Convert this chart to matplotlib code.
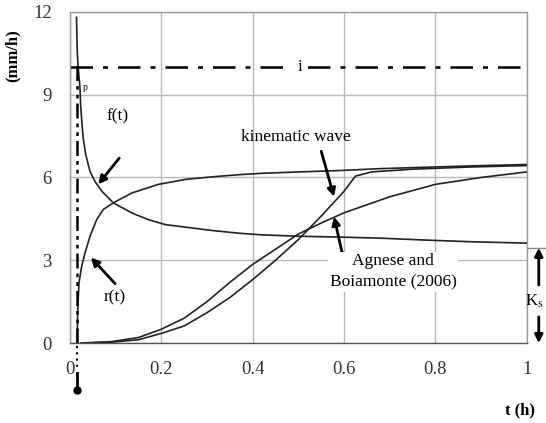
import matplotlib
matplotlib.use("Agg")
import matplotlib.pyplot as plt

# ---- data ----
i_rate = 10.0
t_p = 0.0155
Ks = 3.45

t_f = [0.0145, 0.016, 0.018, 0.022, 0.0235, 0.026, 0.029, 0.0345, 0.044, 0.055, 0.07, 0.095,
       0.136, 0.172, 0.209, 0.253, 0.31, 0.37, 0.42, 0.5, 0.59, 0.68, 0.78, 0.88, 1.0]
f_vals = [11.8, 10.6, 10.0, 9.27, 8.65, 8.04, 7.45, 6.84, 6.22, 5.85, 5.5, 5.08,
          4.71, 4.47, 4.29, 4.2, 4.08, 3.98, 3.92, 3.87, 3.84, 3.8, 3.73, 3.67, 3.62]

t_r = [0.0155, 0.017, 0.0185, 0.0198, 0.0257, 0.033, 0.044, 0.0586, 0.073, 0.095, 0.136, 0.194,
       0.253, 0.31, 0.37, 0.42, 0.5, 0.59, 0.68, 0.78, 0.88, 1.0]
r_vals = [0.0, 1.0, 1.7, 2.17, 2.77, 3.26, 3.87, 4.47, 4.84, 5.08, 5.44, 5.75,
          5.93, 6.02, 6.1, 6.15, 6.2, 6.25, 6.32, 6.37, 6.42, 6.47]

t_kw = [0.025, 0.09, 0.15, 0.2, 0.25, 0.3, 0.35, 0.4, 0.45, 0.5, 0.55, 0.6, 0.625, 0.66, 0.75, 0.88, 1.0]
kw_vals = [0.0, 0.03, 0.12, 0.35, 0.62, 1.1, 1.65, 2.3, 3.0, 3.75, 4.6, 5.5, 6.05, 6.2, 6.3, 6.38, 6.43]

t_ab = [0.025, 0.09, 0.15, 0.2, 0.25, 0.3, 0.35, 0.4, 0.45, 0.5, 0.55, 0.6, 0.7, 0.8, 0.9, 1.0]
ab_vals = [0.0, 0.05, 0.2, 0.5, 0.9, 1.5, 2.2, 2.85, 3.4, 3.95, 4.35, 4.72, 5.3, 5.75, 6.0, 6.2]

x_ticks = [0, 0.2, 0.4, 0.6, 0.8, 1.0]
x_labels = ["0", "0.2", "0.4", "0.6", "0.8", "1"]
y_ticks = [0, 3, 6, 9, 12]

plt.rcParams['font.family'] = ['Liberation Serif', 'DejaVu Serif']
plt.rcParams['mathtext.fontset'] = 'stix'

fig = plt.figure(figsize=(5.46, 4.23), dpi=100)
ax = fig.add_axes([0.128, 0.189, 0.837, 0.783])
ax.set_xlim(0, 1)
ax.set_ylim(0, 12)
ax.set_xticks(x_ticks)
ax.set_xticklabels(x_labels)
ax.set_yticks(y_ticks)
ax.tick_params(length=0, labelsize=13.5, colors='#333333', pad=13)
ax.grid(True, color='#b8b8b8', lw=1.0)
ax.set_axisbelow(True)
for s in ax.spines.values():
    s.set_color('#9a9a9a')
    s.set_linewidth(1.0)
ax.spines['bottom'].set_color('#555555')

lc = '#222222'
ax.plot(t_f, f_vals, color=lc, lw=1.2)
ax.plot(t_r, r_vals, color=lc, lw=1.2)
ax.plot(t_kw, kw_vals, color=lc, lw=1.2)
ax.plot(t_ab, ab_vals, color=lc, lw=1.2)

# rainfall intensity i
ax.plot([0, 1], [i_rate, i_rate], color='black', lw=1.8, ls=(0, (9, 4, 2, 4)))
ax.text(0.503, i_rate, "i", ha='center', va='center', fontsize=12,
        bbox=dict(fc='white', ec='none', pad=4))

# ponding time line
ax.plot([t_p, t_p], [0, 10.2], color='black', lw=1.8, ls=(0, (6, 2, 1.5, 2, 1.5, 2)))
ax.plot([t_p, t_p], [-0.1, -0.9], color='black', lw=1.5, ls=(0, (1, 2)), clip_on=False)
ax.plot([t_p, t_p], [-1.1, -1.7], color='black', lw=2.0, clip_on=False)
ax.plot([t_p], [-1.7], 'o', color='black', ms=5, clip_on=False)
ax.text(0.033, 9.25, "p", fontsize=7, ha='center', va='center')

arw = dict(arrowstyle='-|>', color='black', lw=2.0, mutation_scale=12, shrinkA=0, shrinkB=0)
ax.text(0.105, 8.2, "f(t)", fontsize=12.5, ha='center', va='center')
ax.annotate("", xy=(0.062, 5.75), xytext=(0.108, 6.7), arrowprops=arw)
ax.text(0.099, 1.65, "r(t)", fontsize=12.5, ha='center', va='center')
ax.annotate("", xy=(0.046, 3.1), xytext=(0.099, 2.15), arrowprops=arw)
ax.text(0.495, 7.45, "kinematic wave", fontsize=12.5, ha='center', va='center')
ax.annotate("", xy=(0.578, 5.3), xytext=(0.55, 6.95), arrowprops=arw)
ax.annotate("", xy=(0.578, 4.58), xytext=(0.6, 2.95), arrowprops=arw)
ax.text(0.707, 2.58, "Agnese and\nBoiamonte (2006)", fontsize=12.5, ha='center', va='center',
        linespacing=1.4, bbox=dict(fc='white', ec='none', pad=1))

# Ks double arrow outside axes
ax.plot([1.0, 1.04], [Ks, Ks], color='#888888', lw=1.0, clip_on=False)
ax.annotate("", xy=(1.026, Ks), xytext=(1.026, 2.1), arrowprops=arw, annotation_clip=False)
ax.annotate("", xy=(1.026, 0.0), xytext=(1.026, 0.95), arrowprops=arw, annotation_clip=False)
ax.text(1.016, 1.5, r"K$_\mathrm{s}$", fontsize=12, ha='center', va='center', clip_on=False)

ax.text(-0.125, 10.4, "(mm/h)", rotation=90, fontsize=12, fontweight='bold',
        ha='center', va='center', clip_on=False)
ax.text(0.985, -2.45, "t (h)", fontsize=12, fontweight='bold', ha='center', va='center',
        clip_on=False)

fig.savefig("out.png", dpi=100)
